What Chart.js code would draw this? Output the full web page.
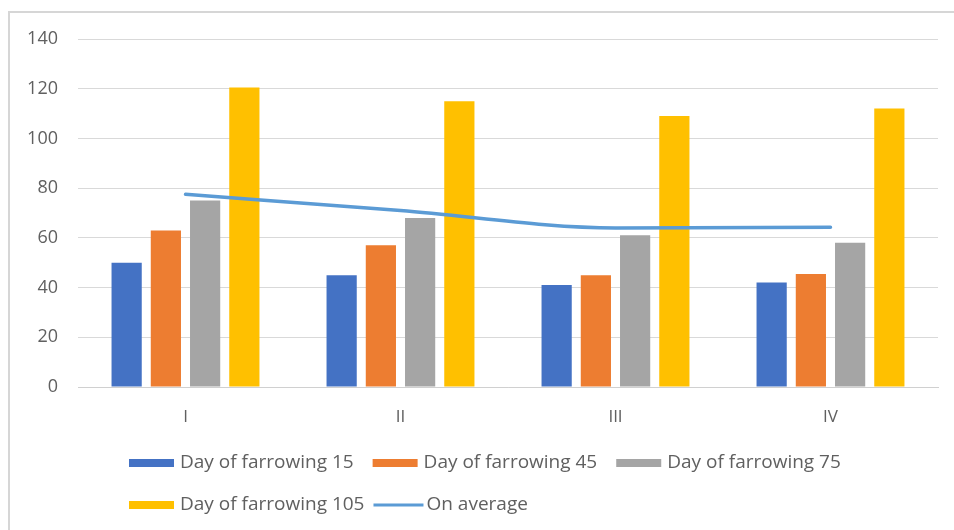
<!DOCTYPE html>
<html>
<head>
<meta charset="utf-8">
<script src="https://cdn.jsdelivr.net/npm/chart.js@4.4.1/dist/chart.umd.min.js"></script>
<style>
  html, body { margin: 0; padding: 0; background: #ffffff; }
  #wrap { position: relative; width: 954px; height: 530px; }
  #frame {
    position: absolute; left: 8px; top: 11px; right: 0; bottom: 0;
    border-left: 2px solid #d6d6d6; border-top: 2px solid #d6d6d6;
    pointer-events: none;
  }
  canvas { position: absolute; left: 0; top: 0; }
</style>
</head>
<body>
<div id="wrap">
  <canvas id="chart" width="954" height="530"></canvas>
  <div id="frame"></div>
</div>
<script>
// Categories (groups on the x axis)
const categories = ['I', 'II', 'III', 'IV'];

// Bar series
const day15  = [50, 45, 41, 42];
const day45  = [63, 57, 45, 45.5];
const day75  = [75, 68, 61, 58];
const day105 = [120.5, 115, 109, 112];

// Line series
const onAverage = [77.5, 71, 64, 64.3];

// Value axis ticks
const yTicks = [0, 20, 40, 60, 80, 100, 120, 140];

const FONT = '"Open Sans", Lato, sans-serif';
const TEXT = '#606060';

// Legend drawn below the plot, Excel-style (rows left-aligned in one block)
const legendPlugin = {
  id: 'bottomLegend',
  afterDraw(chart) {
    const ctx = chart.ctx;
    ctx.save();
    ctx.font = '19px ' + FONT;
    ctx.textBaseline = 'middle';
    const startX = 129, rowY = [463, 505], boxW = 45, gap = 6, itemGap = 19, maxRight = 880;
    let x = startX, row = 0;
    chart.data.datasets.forEach(ds => {
      const tw = ctx.measureText(ds.label).width;
      const isLine = ds.type === 'line';
      if (isLine) x -= 8;
      const w = boxW + gap + tw;
      if (x + w > maxRight && x > startX) { row++; x = startX; }
      const y = rowY[row];
      if (isLine) {
        ctx.strokeStyle = ds.borderColor;
        ctx.lineWidth = 3;
        ctx.beginPath();
        ctx.moveTo(x - 2, y);
        ctx.lineTo(x + boxW + 3, y);
        ctx.stroke();
      } else {
        ctx.fillStyle = ds.backgroundColor;
        ctx.fillRect(x, y - 4, boxW, 8);
      }
      ctx.fillStyle = TEXT;
      ctx.fillText(ds.label, x + boxW + gap, y);
      x += w + itemGap;
    });
    ctx.restore();
  }
};

new Chart(document.getElementById('chart'), {
  type: 'bar',
  data: {
    labels: categories,
    datasets: [
      { label: 'Day of farrowing 15', data: day15, backgroundColor: '#4472C4', order: 1 },
      { label: 'Day of farrowing 45', data: day45, backgroundColor: '#ED7D31', order: 1 },
      { label: 'Day of farrowing 75', data: day75, backgroundColor: '#A5A5A5', order: 1 },
      { label: 'Day of farrowing 105', data: day105, backgroundColor: '#FFC000', order: 1 },
      { label: 'On average', type: 'line', data: onAverage, borderColor: '#5B9BD5',
        backgroundColor: '#5B9BD5', borderWidth: 3.5, pointRadius: 0,
        cubicInterpolationMode: 'monotone',
        order: 0, fill: false, borderCapStyle: 'round' }
    ]
  },
  options: {
    responsive: false,
    animation: false,
    layout: { padding: { top: 39, right: 16, bottom: 103, left: 0 } },
    datasets: {
      bar: { categoryPercentage: 0.73, barPercentage: 0.77 }
    },
    plugins: {
      legend: { display: false },
      tooltip: { enabled: false }
    },
    scales: {
      x: {
        grid: { display: false, drawTicks: false },
        border: { display: true, color: '#d0d0d0', width: 1 },
        ticks: { color: TEXT, font: { family: FONT, size: 17 }, padding: 20 },
        afterFit(scale) { scale.height = 40; }
      },
      y: {
        min: 0, max: 140,
        afterBuildTicks(scale) { scale.ticks = yTicks.map(v => ({ value: v })); },
        grid: { color: '#d9d9d9', lineWidth: 1, drawTicks: false },
        border: { display: false },
        ticks: { color: TEXT, font: { family: FONT, size: 18 }, padding: 20 },
        afterFit(scale) { scale.width = 78; }
      }
    }
  },
  plugins: [legendPlugin]
});
</script>
</body>
</html>
